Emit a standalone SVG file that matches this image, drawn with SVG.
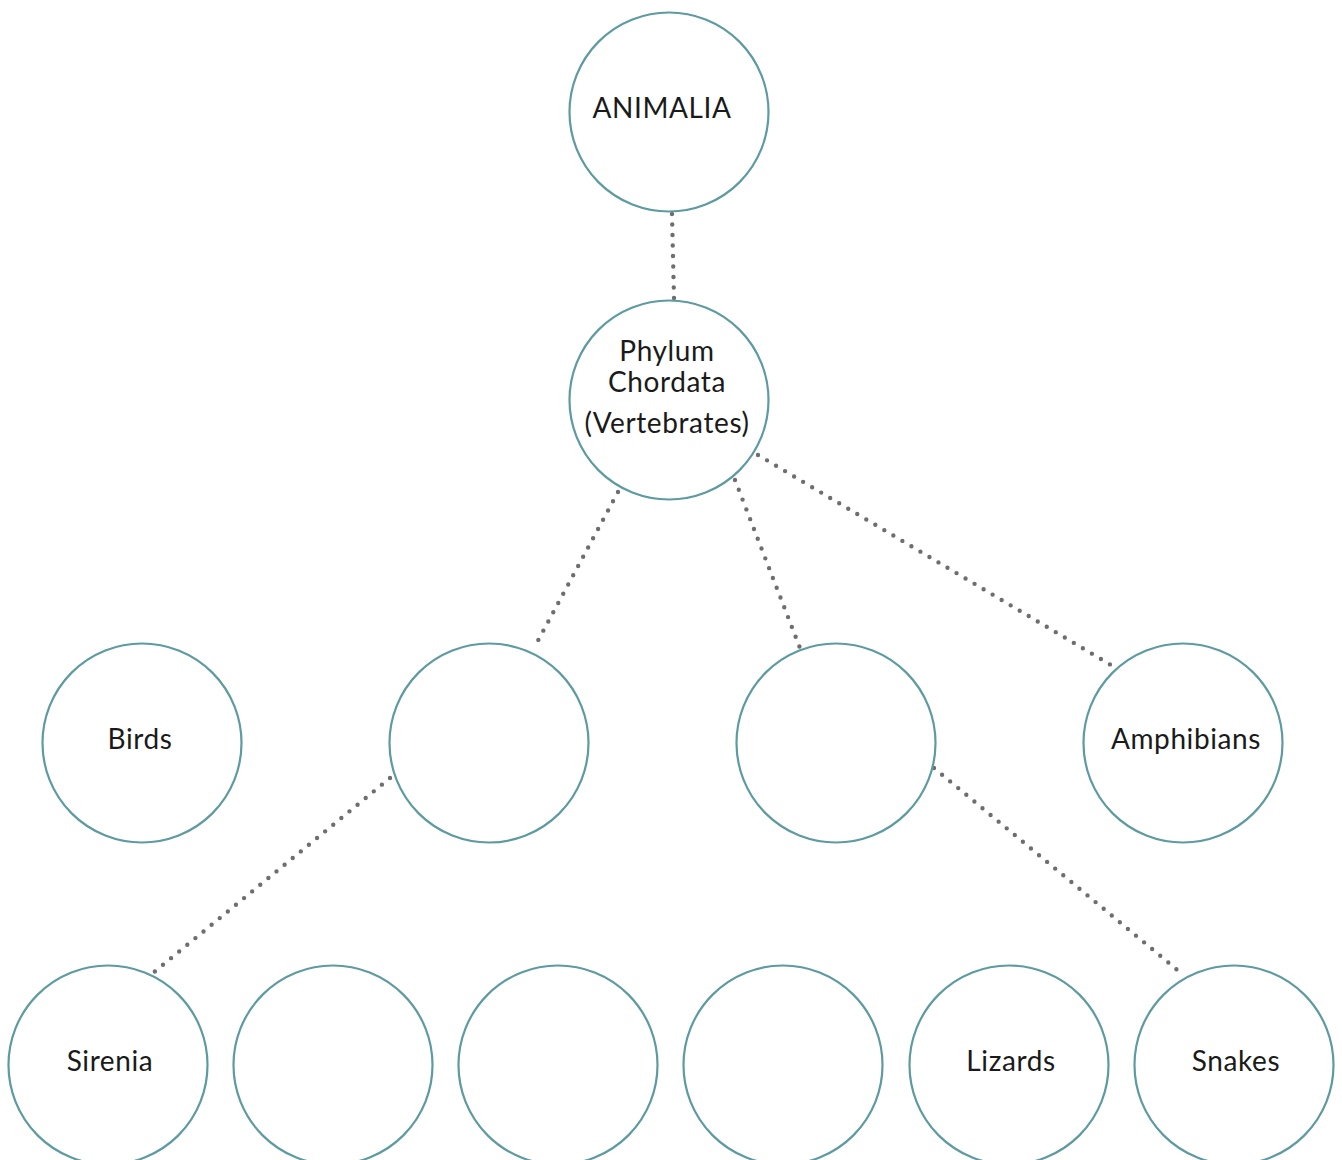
<svg xmlns="http://www.w3.org/2000/svg" width="1342" height="1160" viewBox="0 0 1342 1160">
<style>
.n{fill:#fff;stroke:#5d9ba1;stroke-width:2.2}
.t{font-family:Lato,"Noto Sans",sans-serif;font-size:28px;letter-spacing:0.6px;fill:#1a1a1a;text-anchor:middle}
.c{stroke:#6e6e6e;stroke-width:4.4;stroke-linecap:round;stroke-dasharray:0 10.5;fill:none}
</style>
<rect width="1342" height="1160" fill="#fff"/>
<g id="connectors">
<line class="c" x1="672" y1="214" x2="674" y2="298"/>
<line class="c" x1="618" y1="492" x2="534" y2="648"/>
<line class="c" x1="735" y1="480" x2="800" y2="648"/>
<line class="c" x1="758" y1="455" x2="1116" y2="668"/>
<line class="c" x1="390" y1="778" x2="153" y2="973"/>
<line class="c" x1="934" y1="768" x2="1181" y2="973"/>
</g>
<g id="animalia"><circle class="n" cx="669" cy="112" r="99.5"/><text class="t" x="662" y="118">ANIMALIA</text></g>
<g id="chordata"><circle class="n" cx="669" cy="400" r="99.5"/><text class="t" x="667" y="361">Phylum</text><text class="t" x="667" y="392">Chordata</text><text class="t" x="667" y="433">(Vertebrates)</text></g>
<g id="birds"><circle class="n" cx="142" cy="743" r="99.5"/><text class="t" x="140" y="749">Birds</text></g>
<g id="n2a"><circle class="n" cx="489" cy="743" r="99.5"/></g>
<g id="n2b"><circle class="n" cx="836" cy="743" r="99.5"/></g>
<g id="amphibians"><circle class="n" cx="1183" cy="743" r="99.5"/><text class="t" x="1186" y="749">Amphibians</text></g>
<g id="sirenia"><circle class="n" cx="108" cy="1065" r="99.5"/><text class="t" x="110" y="1071">Sirenia</text></g>
<g id="n3b"><circle class="n" cx="333" cy="1065" r="99.5"/></g>
<g id="n3c"><circle class="n" cx="558" cy="1065" r="99.5"/></g>
<g id="n3d"><circle class="n" cx="783" cy="1065" r="99.5"/></g>
<g id="lizards"><circle class="n" cx="1009" cy="1065" r="99.5"/><text class="t" x="1011" y="1071">Lizards</text></g>
<g id="snakes"><circle class="n" cx="1234" cy="1065" r="99.5"/><text class="t" x="1236" y="1071">Snakes</text></g>
</svg>
